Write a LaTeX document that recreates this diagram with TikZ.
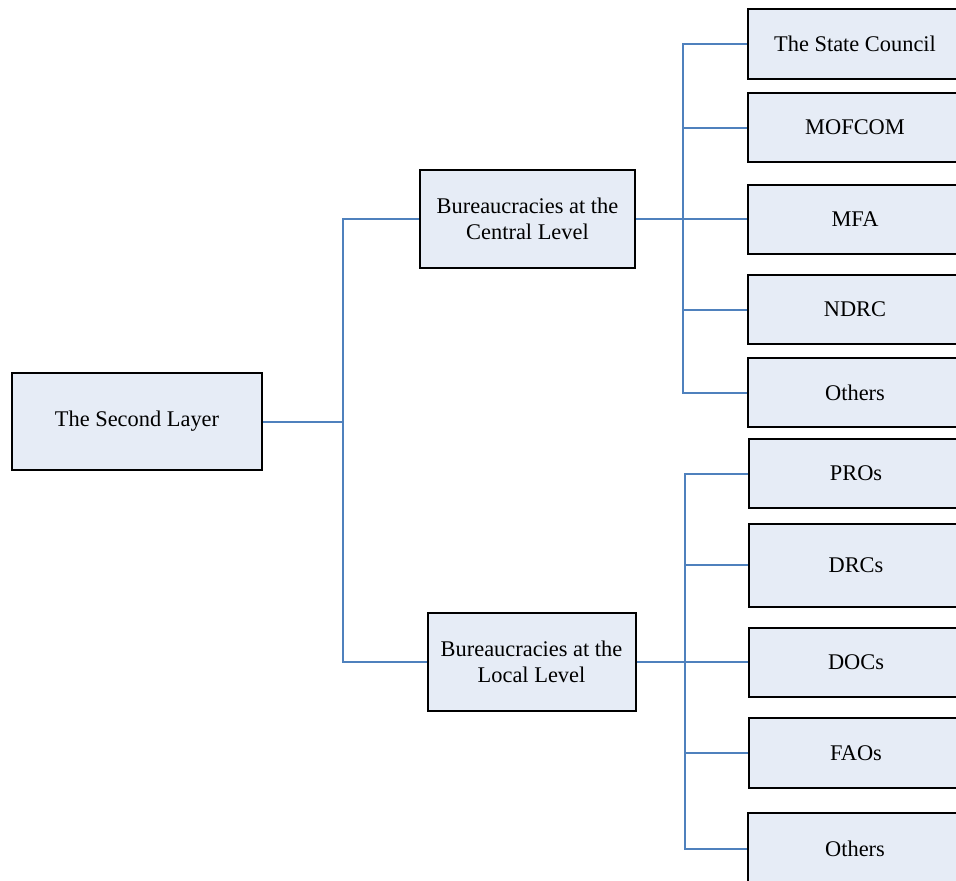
\documentclass[tikz,border=0pt]{standalone}
\usepackage{fontspec}
\setmainfont{Liberation Serif}

\begin{document}
\begin{tikzpicture}[x=1pt, y=-1pt]
    \definecolor{borderColour}{HTML}{000000}
    \definecolor{fillColourBox}{HTML}{E6ECF6}
    \definecolor{linkColour}{HTML}{4F81BD}

    \tikzset{
        box/.style={draw=borderColour, fill=fillColourBox, line width=2pt, inner sep=0pt,
            align=center, font=\fontsize{22.4}{26.5}\selectfont},
        leaf/.style={box, minimum width=214pt, minimum height=69pt},
        link/.style={draw=linkColour, line width=2pt}
    }

    % Page frame
    \useasboundingbox (0,0) rectangle (956,881);
    \clip (0,0) rectangle (956,881);

    % Left and middle boxes
    \node[box, minimum width=250pt, minimum height=97pt] (second) at (137,421.5) {The Second Layer};
    \node[box, minimum width=215pt, minimum height=98pt] (central) at (527.5,219) {Bureaucracies at the\\Central Level};
    \node[box, minimum width=208pt, minimum height=98pt] (local) at (531.5,662) {Bureaucracies at the\\Local Level};

    % Central level boxes
    \node[leaf, minimum height=70pt] (council) at (855,44) {The State Council};
    \node[leaf] (mofcom) at (855,127.5) {MOFCOM};
    \node[leaf] (mfa) at (855,219) {MFA};
    \node[leaf] (ndrc) at (855,309.5) {NDRC};
    \node[leaf] (othersC) at (855,392.5) {Others};

    % Local level boxes
    \node[leaf] (pros) at (856,473.5) {PROs};
    \node[leaf, minimum height=83pt] (drcs) at (856,565) {DRCs};
    \node[leaf] (docs) at (856,662) {DOCs};
    \node[leaf, minimum height=70pt] (faos) at (856,753) {FAOs};
    \node[leaf, minimum height=72pt] (othersL) at (855,849) {Others};

    % Trunk coordinates
    \coordinate (trunkA) at (343,421.5);
    \coordinate (trunkB) at (683,219);
    \coordinate (trunkC) at (685,662);

    % Draw links from the second layer
    \draw[link] (second.east) -- (trunkA);
    \draw[link] (trunkA) |- (central.west);
    \draw[link] (trunkA) |- (local.west);

    % Draw links at the central level
    \draw[link] (central.east) -- (mfa.west);
    \foreach \n in {council,mofcom,ndrc,othersC}
        \draw[link] (trunkB) |- (\n.west);

    % Draw links at the local level
    \draw[link] (local.east) -- (docs.west);
    \foreach \n in {pros,drcs,faos,othersL}
        \draw[link] (trunkC) |- (\n.west);

\end{tikzpicture}
\end{document}
